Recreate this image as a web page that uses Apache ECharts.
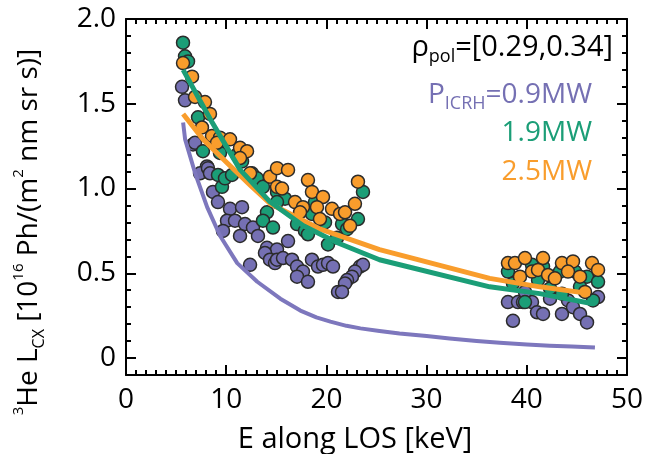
<!DOCTYPE html>
<html><head><meta charset="utf-8">
<script src="https://cdn.jsdelivr.net/npm/echarts@6/dist/echarts.min.js"></script>
<style>html,body{margin:0;padding:0;background:#fff}#c{width:649px;height:454px}</style>
</head><body><div id="c"></div>
<script>
// ---- data ----
var xTicks = [0, 10, 20, 30, 40, 50];
var yTicks = [0, 0.5, 1.0, 1.5, 2.0];
var legendLabels = ['0.9MW', '1.9MW', '2.5MW'];
var rhoRange = '[0.29,0.34]';

// measured points [E keV, L_CX]
var pts09 = [
 [5.59,1.60],[5.89,1.52],[6.69,1.26],[8.08,1.13],[6.89,1.27],[7.39,1.09],[8.18,1.12],[8.38,1.09],
 [8.68,0.98],[9.18,0.92],[10.38,0.88],[11.58,0.89],[10.08,0.81],[10.88,0.81],[11.88,0.79],[12.67,0.77],
 [9.68,0.75],[11.38,0.72],[13.17,0.72],[14.07,0.65],[15.07,0.64],[13.87,0.62],[14.37,0.58],[14.87,0.56],
 [12.38,0.55],[16.17,0.69],[15.07,0.58],[15.67,0.59],[16.57,0.58],[17.07,0.54],[17.66,0.51],[17.07,0.48],
 [18.16,0.45],[18.56,0.58],[19.16,0.54],[19.66,0.55],[20.16,0.56],[20.66,0.54],[23.35,0.54],[23.65,0.55],
 [22.85,0.51],[22.55,0.48],[22.06,0.46],[21.86,0.44],[21.16,0.39],[21.56,0.39],
 [38.12,0.33],[39.12,0.33],[39.62,0.33],[40.52,0.33],[39.82,0.39],[42.32,0.35],[44.11,0.34],[47.11,0.36],
 [41.02,0.27],[41.62,0.26],[43.51,0.26],[44.61,0.30],[45.31,0.26],[46.01,0.21],[38.62,0.22]
];
var pts19 = [
 [5.69,1.86],[5.89,1.78],[6.19,1.75],[7.19,1.42],[7.68,1.22],[9.08,1.26],[9.38,1.21],[11.08,1.20],
 [9.58,1.01],[9.18,1.08],[9.88,1.06],[10.58,1.08],[11.58,1.16],[12.57,1.09],[14.07,0.86],[13.67,0.81],
 [14.67,0.77],[15.07,0.98],[13.07,1.06],[13.67,1.01],[18.86,0.92],[23.65,0.98],[15.87,0.94],[15.07,0.92],
 [17.07,0.79],[17.86,0.75],[18.16,0.73],[19.86,0.80],[21.56,0.79],[23.15,0.82],[22.06,0.76],[20.16,0.67],
 [21.06,0.71],[18.56,0.85],
 [38.12,0.51],[40.52,0.55],[41.62,0.54],[43.31,0.51],[44.81,0.51],[46.01,0.48],[47.11,0.45],[41.12,0.46],
 [38.62,0.44],[42.32,0.41],[45.31,0.42],[46.61,0.34],[39.82,0.33],[43.51,0.38]
];
var pts25 = [
 [5.69,1.74],[6.59,1.66],[6.89,1.54],[7.88,1.51],[8.38,1.44],[7.58,1.36],[8.58,1.31],[9.38,1.30],
 [10.38,1.29],[11.38,1.24],[12.08,1.22],[9.08,1.27],[11.38,1.18],[12.38,1.09],[14.37,1.07],[15.07,1.12],
 [16.17,1.11],[15.07,1.01],[15.57,1.00],[18.16,1.05],[18.56,0.98],[19.66,0.95],[23.15,1.04],[16.87,0.92],
 [17.66,0.89],[17.37,0.86],[19.06,0.89],[19.36,0.82],[20.56,0.88],[21.36,0.85],[21.86,0.86],[22.85,0.91],
 [22.36,0.78],
 [38.12,0.56],[38.82,0.56],[39.82,0.59],[41.62,0.59],[43.51,0.56],[44.61,0.57],[46.51,0.56],[47.11,0.52],
 [39.32,0.48],[40.52,0.51],[41.12,0.52],[42.12,0.49],[42.81,0.47],[44.11,0.51],[45.31,0.48],[45.81,0.39]
];
// model curves [E keV, L_CX]
var curve09 = [[5.7,1.39],[5.9,1.29],[6.9,1.09],[8.1,0.89],[9.4,0.72],[11.1,0.56],[13.1,0.45],[15.4,0.35],
 [17.4,0.28],[19.0,0.24],[20.4,0.215],[22.0,0.19],[23.4,0.175],[25.3,0.16],[27.3,0.145],[30.0,0.13],
 [32.3,0.115],[35.0,0.10],[37.3,0.09],[40.0,0.08],[42.3,0.073],[44.5,0.068],[46.8,0.062]];
var curve19 = [[5.7,1.70],[8.4,1.41],[11.4,1.11],[14.4,0.92],[17.7,0.78],[21.1,0.68],[25.3,0.58],[36.3,0.42],
 [41.3,0.38],[46.6,0.32]];
var curve25 = [[5.7,1.44],[7.7,1.29],[10.1,1.15],[12.4,1.02],[14.4,0.91],[19.4,0.76],[25.3,0.64],[36.3,0.47],
 [41.3,0.42],[46.3,0.38]];

// ---- styling ----
var C_P = '#7570b3', C_G = '#1b9e77', C_O = '#f99d2c';
var FONT = '"Open Sans", "DejaVu Sans", sans-serif';
var minorY = [];
for (var i = -1; i <= 20; i++) { if (i % 5 !== 0) minorY.push(Math.round(i) / 10); }

function xAx(pos, labels) {
  return {
    type: 'value', position: pos, min: 0, max: 50, interval: 10,
    axisLine: { show: true, onZero: false, lineStyle: { color: '#000', width: 2 } },
    axisTick: { show: true, inside: true, length: 10, lineStyle: { color: '#000', width: 2 } },
    minorTick: { show: true, splitNumber: 10, length: 5, lineStyle: { color: '#000', width: 2 } },
    splitLine: { show: false }, minorSplitLine: { show: false },
    axisLabel: { show: labels, fontSize: 28, color: '#000', fontFamily: FONT, margin: 11 }
  };
}
function yAxMajor(pos, labels) {
  return {
    type: 'value', position: pos, min: -0.1, max: 2.0,
    axisLine: { show: true, onZero: false, lineStyle: { color: '#000', width: 2 } },
    axisTick: { show: true, inside: true, length: 10, customValues: yTicks, lineStyle: { color: '#000', width: 2 } },
    splitLine: { show: false },
    axisLabel: { show: labels, customValues: yTicks, fontSize: 28, color: '#000', fontFamily: FONT, margin: 10,
      formatter: function (v) { return v === 0 ? '0' : v.toFixed(1); } }
  };
}
function yAxMinor(pos) {
  return {
    type: 'value', position: pos, min: -0.1, max: 2.0,
    axisLine: { show: false, onZero: false },
    axisTick: { show: true, inside: true, length: 5, customValues: minorY, lineStyle: { color: '#000', width: 2 } },
    splitLine: { show: false },
    axisLabel: { show: false }
  };
}
function scat(data, color) {
  return { type: 'scatter', data: data, xAxisIndex: 0, yAxisIndex: 0, symbolSize: 13, z: 2,
    itemStyle: { color: color, borderColor: '#2b2b2b', borderWidth: 1.5, opacity: 1 } };
}
function line(data, color, w, z) {
  return { type: 'line', data: data, xAxisIndex: 0, yAxisIndex: 0, symbol: 'none', smooth: false, z: z,
    lineStyle: { color: color, width: w, cap: 'butt', join: 'round' } };
}

var chart = echarts.init(document.getElementById('c'), null, { renderer: 'canvas' });
chart.setOption({
  animation: false,
  backgroundColor: '#fff',
  grid: { left: 126, right: 22, top: 19, bottom: 79, containLabel: false },
  xAxis: [xAx('bottom', true), xAx('top', false)],
  yAxis: [yAxMajor('left', true), yAxMinor('left'), yAxMajor('right', false), yAxMinor('right')],
  series: [
    scat(pts09, C_P), scat(pts19, C_G), scat(pts25, C_O),
    line(curve09, '#7d77bd', 4, 5), line(curve25, C_O, 5, 6), line(curve19, C_G, 5, 7)
  ],
  graphic: [
    { type: 'text', x: 613, y: 48, z: 20, style: { align: 'right', verticalAlign: 'middle',
        text: '{a|ρ}{s|pol}{a|=' + rhoRange + '}',
        rich: { a: { fontSize: 29, fontFamily: FONT, fill: '#000', lineHeight: 36 },
                s: { fontSize: 18, fontFamily: FONT, fill: '#000', lineHeight: 14, verticalAlign: 'bottom' } } } },
    { type: 'text', x: 592, y: 95, z: 20, style: { align: 'right', verticalAlign: 'middle',
        text: '{a|P}{s|ICRH}{a|=' + legendLabels[0] + '}',
        rich: { a: { fontSize: 28, fontFamily: FONT, fill: C_P, lineHeight: 36 },
                s: { fontSize: 18, fontFamily: FONT, fill: C_P, lineHeight: 14, verticalAlign: 'bottom' } } } },
    { type: 'text', x: 592, y: 133, z: 20, style: { align: 'right', verticalAlign: 'middle',
        text: legendLabels[1], fontSize: 28, fontFamily: FONT, fill: C_G } },
    { type: 'text', x: 592, y: 172, z: 20, style: { align: 'right', verticalAlign: 'middle',
        text: legendLabels[2], fontSize: 28, fontFamily: FONT, fill: C_O } },
    { type: 'text', x: 355, y: 440, z: 20, style: { align: 'center', verticalAlign: 'middle',
        text: 'E along LOS [keV]', fontSize: 29, fontFamily: FONT, fill: '#000' } },
    { type: 'text', x: 29, y: 232, rotation: Math.PI / 2, z: 20, style: { align: 'center', verticalAlign: 'middle',
        text: '{u|3}{a|He L}{d|CX}{a| [10}{u|16}{a| Ph/(m}{u|2}{a| nm sr s)]}',
        rich: { a: { fontSize: 28, fontFamily: FONT, fill: '#000', lineHeight: 36 },
                u: { fontSize: 15, fontFamily: FONT, fill: '#000', lineHeight: 15, verticalAlign: 'top' },
                d: { fontSize: 16, fontFamily: FONT, fill: '#000', lineHeight: 14, verticalAlign: 'bottom' } } } }
  ]
});
</script></body></html>
